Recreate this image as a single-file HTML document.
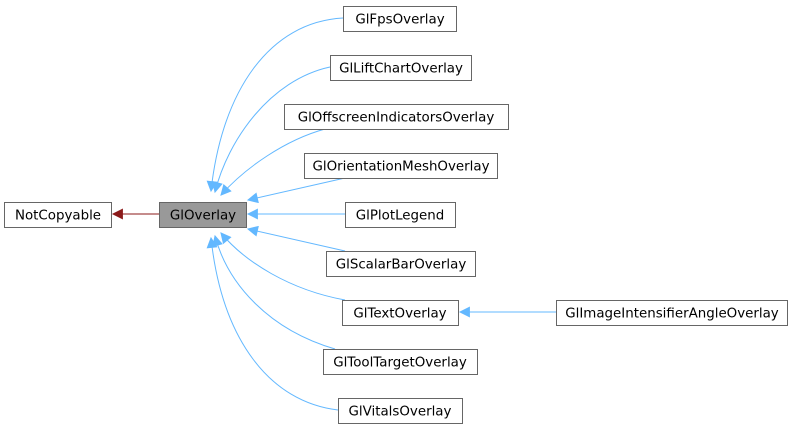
<!DOCTYPE html>
<html><head><style>body{margin:0;background:#fff}svg{display:block}</style></head><body>
<svg width="792" height="431" viewBox="0 0 792 431" xmlns="http://www.w3.org/2000/svg" font-family="DejaVu Sans, sans-serif" font-size="13.4">
<defs>
<marker id="b" viewBox="0 0 10 10" refX="9" refY="5" markerWidth="14" markerHeight="11" markerUnits="userSpaceOnUse" orient="auto"><path d="M0,0 L10,5 L0,10 z" fill="#63b8ff"/></marker>
<marker id="r" viewBox="0 0 10 10" refX="9" refY="5" markerWidth="14" markerHeight="11" markerUnits="userSpaceOnUse" orient="auto"><path d="M0,0 L10,5 L0,10 z" fill="#8b1a1a"/></marker>
</defs>
<g fill="none" stroke="#63b8ff" stroke-width="1">
<path d="M343,18 C270,22 222,90 211,191" marker-end="url(#b)"/>
<path d="M330,67 C270,80 228,140 215,192" marker-end="url(#b)"/>
<path d="M325,129 C285,140 245,168 221,195" marker-end="url(#b)"/>
<path d="M345,178 L248,200" marker-end="url(#b)"/>
<path d="M345,214 L248,214" marker-end="url(#b)"/>
<path d="M345,251 L248,229" marker-end="url(#b)"/>
<path d="M345,300 C290,290 245,262 221,233" marker-end="url(#b)"/>
<path d="M335,349 C270,330 228,285 215,236" marker-end="url(#b)"/>
<path d="M338,410 C270,402 222,340 211,238" marker-end="url(#b)"/>
<path d="M556,312 L460,312" marker-end="url(#b)"/>
</g>
<path d="M159,214 L113,214" stroke="#8b1a1a" fill="none" marker-end="url(#r)"/>
<g stroke="#666" fill="#fff">
<rect x="4.5" y="202.5" width="107" height="25"/>
<rect x="159.5" y="202.5" width="87" height="25" fill="#999"/>
<rect x="343.5" y="6.5" width="113" height="25"/>
<rect x="330.5" y="55.5" width="141" height="25"/>
<rect x="284.5" y="104.5" width="224" height="25"/>
<rect x="304.5" y="153.5" width="193" height="25"/>
<rect x="345.5" y="202.5" width="110" height="25"/>
<rect x="326.5" y="251.5" width="149" height="25"/>
<rect x="342.5" y="300.5" width="116" height="25"/>
<rect x="556.5" y="300.5" width="231" height="25"/>
<rect x="323.5" y="349.5" width="154" height="25"/>
<rect x="338.5" y="398.5" width="124" height="25"/>
</g>
<g fill="#000" text-anchor="middle">
<text x="58" y="219.5">NotCopyable</text>
<text x="203" y="219.5">GlOverlay</text>
<text x="400" y="23.5">GlFpsOverlay</text>
<text x="401" y="72.5">GlLiftChartOverlay</text>
<text x="396" y="121.5">GlOffscreenIndicatorsOverlay</text>
<text x="401" y="170.5">GlOrientationMeshOverlay</text>
<text x="400" y="219.5">GlPlotLegend</text>
<text x="401" y="268.5">GlScalarBarOverlay</text>
<text x="400" y="317.5">GlTextOverlay</text>
<text x="672" y="317.5">GlImageIntensifierAngleOverlay</text>
<text x="400" y="366.5">GlToolTargetOverlay</text>
<text x="400" y="415.5">GlVitalsOverlay</text>
</g>
</svg>
</body></html>
